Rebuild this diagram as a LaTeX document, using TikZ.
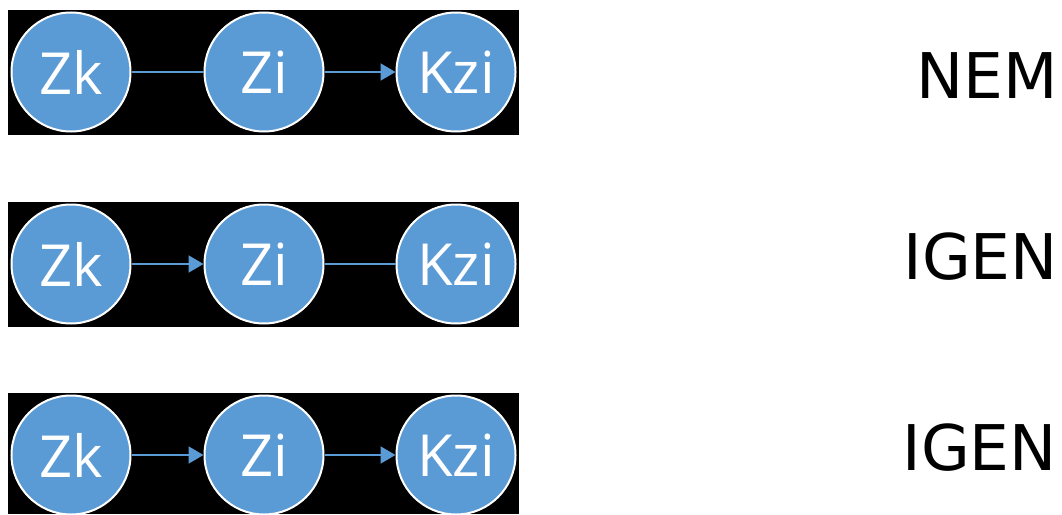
\documentclass[tikz,border=0pt]{standalone}
\usepackage{fontspec}
\setmainfont{DejaVu Sans}
\newfontfamily\nodefont{Open Sans}
\usetikzlibrary{arrows.meta}
\definecolor{nodeblue}{HTML}{5B9BD5}
\tikzset{
  panel/.style={fill=black, draw=none},
  bub/.style={circle, fill=nodeblue, draw=white, line width=2pt, minimum size=119pt, inner sep=0pt, text=white, font=\nodefont\fontsize{58}{62}\selectfont},
  link/.style={draw=nodeblue, line width=2pt},
  arr/.style={link, -{Triangle[length=15pt, width=17pt]}},
  verdict/.style={anchor=east, font=\fontsize{63}{68}\selectfont, text=black, inner sep=0pt}
}
\begin{document}
\begin{tikzpicture}[x=1pt, y=-1pt]
\useasboundingbox (0,0) rectangle (1062,514);
\fill[white] (0,0) rectangle (1062,514);
% panels
\path[panel] (8,10) rectangle (519,135);
\path[panel] (8,202) rectangle (519,327);
\path[panel] (8,393) rectangle (519,514);
% row 1
\node[bub] (a1) at (71,72) {Zk};
\node[bub] (b1) at (264,72) {Zi};
\node[bub] (c1) at (456,72) {Kzi};
\draw[link] (a1) -- (b1);
\draw[arr] (b1) -- (c1);
% row 2
\node[bub] (a2) at (71,264) {Zk};
\node[bub] (b2) at (264,264) {Zi};
\node[bub] (c2) at (456,264) {Kzi};
\draw[arr] (a2) -- (b2);
\draw[link] (b2) -- (c2);
% row 3
\node[bub] (a3) at (71,455) {Zk};
\node[bub] (b3) at (264,455) {Zi};
\node[bub] (c3) at (456,455) {Kzi};
\draw[arr] (a3) -- (b3);
\draw[arr] (b3) -- (c3);
% labels
\node[verdict] (v1) at (1058,76) {NEM};
\node[verdict] (v2) at (1058,257) {IGEN};
\node[verdict] (v3) at (1057,448) {IGEN};
\end{tikzpicture}
\end{document}
